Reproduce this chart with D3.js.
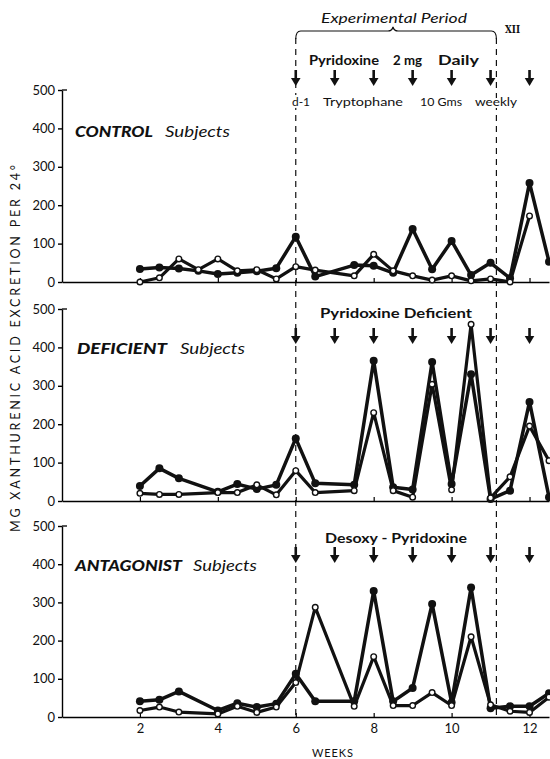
<!DOCTYPE html>
<html>
<head>
<meta charset="utf-8">
<script src="https://cdn.jsdelivr.net/npm/d3@7"></script>
<style>
  body { margin: 0; background: #fff; }
  text { font-family: Lato, "DejaVu Sans", sans-serif; fill: #111; }
</style>
</head>
<body>
<script>
// xanthurenic acid excretion, mg per 24 hours, by week
// filled = solid dots, open = open circles (null = no reading)

var controlWeeks  = [2, 2.5, 3, 3.5, 4, 4.5, 5, 5.5, 6, 6.5, 7.5, 8, 8.5, 9, 9.5, 10, 10.5, 11, 11.5, 12, 12.5];
var controlFilled = [34, 38, 35, 29, 21, 24, 28, 36, 118, 14, 44, 42, 24, 138, 33, 107, 18, 50, 10, 258, 53];
var controlOpen   = [0, 11, 60, 32, 60, 29, 32, 8, 40, 31, 16, 72, 29, 16, 5, 16, 3, 8, 0, 172, null];

var deficientWeeks  = [2, 2.5, 3, 4, 4.5, 5, 5.5, 6, 6.5, 7.5, 8, 8.5, 9, 9.5, 10, 10.5, 11, 11.5, 12, 12.5];
var deficientFilled = [39, 85, 59, 24, 44, 31, 42, 163, 46, 42, 365, 36, 30, 362, 44, 330, 5, 27, 258, 10];
var deficientOpen   = [20, 17, 17, 22, 22, 42, 16, 79, 22, 27, 230, 27, 10, 304, 29, 460, 8, 63, 195, 105];

var antagonistWeeks  = [2, 2.5, 3, 4, 4.5, 5, 5.5, 6, 6.5, 7.5, 8, 8.5, 9, 9.5, 10, 10.5, 11, 11.5, 12, 12.5];
var antagonistFilled = [41, 45, 67, 17, 36, 26, 35, 113, 41, 41, 330, 41, 76, 296, 38, 339, 23, 28, 28, 62];
var antagonistOpen   = [17, 26, 13, 8, 28, 12, 26, 90, 287, 28, 158, 30, 30, 64, 30, 210, 32, 15, 12, 52];

var yTicks = [0, 100, 200, 300, 400, 500];
var xTicks = [2, 4, 6, 8, 10, 12];
var arrowWeeks = [6, 7, 8, 9, 10, 11, 12];
var periodStart = 6, periodEnd = 11.15;

var width = 550, height = 759;

var svg = d3.select("body").append("svg")
  .attr("width", width)
  .attr("height", height);

var x = d3.scaleLinear().domain([0, 12.5]).range([62, 549]);

// panel layout
var panels = [
  {weeks: controlWeeks, filled: controlFilled, open: controlOpen,
   top: 90, bottom: 282, name: "CONTROL", nameX: 75, nameY: 137, nameLen: 78, subX: 165, subLen: 65,
   arrowTop: 70, showX: false},
  {weeks: deficientWeeks, filled: deficientFilled, open: deficientOpen,
   top: 309, bottom: 501, name: "DEFICIENT", nameX: 77, nameY: 354, nameLen: 90, subX: 180, subLen: 65,
   arrowTop: 328, showX: false,
   note: "Pyridoxine  Deficient", noteX: 320, noteY: 318, noteLen: 152},
  {weeks: antagonistWeeks, filled: antagonistFilled, open: antagonistOpen,
   top: 526, bottom: 717, name: "ANTAGONIST", nameX: 75, nameY: 571, nameLen: 107, subX: 193, subLen: 64,
   arrowTop: 547, showX: true,
   note: "Desoxy - Pyridoxine", noteX: 325, noteY: 543, noteLen: 142}
];

function drawArrow(g, cx, top) {
  g.append("line")
    .attr("x1", cx).attr("x2", cx)
    .attr("y1", top).attr("y2", top + 9)
    .attr("stroke", "#111").attr("stroke-width", 2.6);
  g.append("path")
    .attr("d", "M" + (cx - 4.8) + "," + (top + 8) + "L" + (cx + 4.8) + "," + (top + 8) + "L" + cx + "," + (top + 16) + "Z")
    .attr("fill", "#111");
}

// dashed lines of the experimental period
[periodStart, periodEnd].forEach(function(w) {
  svg.append("line")
    .attr("x1", x(w)).attr("x2", x(w))
    .attr("y1", 38).attr("y2", 718)
    .attr("stroke", "#111")
    .attr("stroke-width", 1.2)
    .attr("stroke-dasharray", "6,5");
});

panels.forEach(function(p) {
  var y = d3.scaleLinear().domain([0, 500]).range([p.bottom, p.top]);
  var g = svg.append("g");

  // y axis
  var ya = g.append("g")
    .attr("transform", "translate(" + x(0) + ",0)")
    .call(d3.axisLeft(y).tickValues(yTicks).tickSize(4).tickSizeOuter(0).tickPadding(3));
  ya.select(".domain").attr("stroke-width", 1.4);
  ya.selectAll(".tick line").attr("stroke-width", 1.4);
  ya.selectAll("text").style("font-size", "13px").style("font-family", "Lato, sans-serif").attr("fill", "#111");
  g.append("line")
    .attr("x1", x(0)).attr("x2", x(0) + 5)
    .attr("y1", y(500)).attr("y2", y(500))
    .attr("stroke", "#111").attr("stroke-width", 1.4);

  // x axis
  var xa = g.append("g")
    .attr("transform", "translate(0," + y(0) + ")")
    .call(d3.axisBottom(x).tickValues(xTicks).tickSize(-4).tickSizeOuter(0).tickPadding(7));
  xa.select(".domain").attr("stroke-width", 1.4);
  xa.selectAll(".tick line").attr("stroke-width", 1.2);
  xa.selectAll("text").style("font-size", "13px").style("font-family", "Lato, sans-serif").attr("fill", "#111");
  if (!p.showX) xa.selectAll("text").remove();

  // panel label
  g.append("text")
    .attr("x", p.nameX).attr("y", p.nameY)
    .attr("textLength", p.nameLen).attr("lengthAdjust", "spacingAndGlyphs")
    .style("font-size", "15px").style("font-style", "italic").style("font-weight", 900)
    .text(p.name);
  g.append("text")
    .attr("x", p.subX).attr("y", p.nameY)
    .attr("textLength", p.subLen).attr("lengthAdjust", "spacingAndGlyphs")
    .style("font-size", "15px").style("font-style", "italic")
    .text("Subjects");

  if (p.note) {
    g.append("text")
      .attr("x", p.noteX).attr("y", p.noteY)
      .attr("textLength", p.noteLen).attr("lengthAdjust", "spacingAndGlyphs")
      .style("font-size", "14px").style("font-weight", 700)
      .text(p.note);
  }

  arrowWeeks.forEach(function(w) { drawArrow(g, x(w), p.arrowTop); });

  var line = d3.line()
    .defined(function(d) { return d[1] != null; })
    .x(function(d) { return x(d[0]); })
    .y(function(d) { return y(d[1]); });

  var filledPts = p.weeks.map(function(w, i) { return [w, p.filled[i]]; });
  var openPts = p.weeks.map(function(w, i) { return [w, p.open[i]]; })
    .filter(function(d) { return d[1] != null; });

  g.append("path").datum(openPts)
    .attr("d", line).attr("fill", "none")
    .attr("stroke", "#111").attr("stroke-width", 3.2).attr("stroke-linejoin", "round");
  g.append("path").datum(filledPts)
    .attr("d", line).attr("fill", "none")
    .attr("stroke", "#111").attr("stroke-width", 3.5).attr("stroke-linejoin", "round");

  g.selectAll(".dot").data(filledPts).enter().append("circle")
    .attr("cx", function(d) { return x(d[0]); })
    .attr("cy", function(d) { return y(d[1]); })
    .attr("r", 4).attr("fill", "#111");
  g.selectAll(".ring").data(openPts).enter().append("circle")
    .attr("cx", function(d) { return x(d[0]); })
    .attr("cy", function(d) { return y(d[1]); })
    .attr("r", 2.8).attr("fill", "#fff")
    .attr("stroke", "#111").attr("stroke-width", 1.4);
});

// top annotations
var x0 = x(periodStart), x1 = x(periodEnd), xm = 393;
svg.append("path")
  .attr("d", "M" + x0 + ",39 Q" + x0 + ",31 " + (x0 + 5) + ",31 L" + (xm - 5) + ",31 Q" + (xm - 1) + ",31 " + xm + ",27 Q" + (xm + 1) + ",31 " + (xm + 5) + ",31 L" + (x1 - 5) + ",31 Q" + x1 + ",31 " + x1 + ",39")
  .attr("fill", "none").attr("stroke", "#111").attr("stroke-width", 1.2);

svg.append("text")
  .attr("x", 321).attr("y", 23)
  .attr("textLength", 146).attr("lengthAdjust", "spacingAndGlyphs")
  .style("font-size", "13px").style("font-style", "italic")
  .text("Experimental Period");

svg.append("text")
  .attr("x", 505).attr("y", 33)
  .attr("textLength", 15).attr("lengthAdjust", "spacingAndGlyphs")
  .style("font-size", "11px").style("font-weight", 900)
  .style("font-family", "'DejaVu Serif', serif")
  .text("XII");

var dailyWords = [["Pyridoxine", 309, 70], ["2 mg", 393, 29], ["Daily", 438, 41]];
dailyWords.forEach(function(d) {
  svg.append("text")
    .attr("x", d[1]).attr("y", 65)
    .attr("textLength", d[2]).attr("lengthAdjust", "spacingAndGlyphs")
    .style("font-size", "14px").style("font-weight", 700)
    .text(d[0]);
});

var doseWords = [["d-1", 292, 18], ["Tryptophane", 323, 80], ["10 Gms", 420, 42], ["weekly", 475, 42]];
doseWords.forEach(function(d) {
  svg.append("text")
    .attr("x", d[1]).attr("y", 106)
    .attr("textLength", d[2]).attr("lengthAdjust", "spacingAndGlyphs")
    .style("font-size", "12px")
    .style("stroke", "#fff").style("stroke-width", 4).style("paint-order", "stroke")
    .text(d[0]);
});

// axis titles
svg.append("text")
  .attr("transform", "translate(20,532) rotate(-90)")
  .attr("textLength", 367).attr("lengthAdjust", "spacing")
  .style("font-size", "12.5px")
  .text("MG  XANTHURENIC  ACID  EXCRETION  PER  24\u00b0");

svg.append("text")
  .attr("x", 312).attr("y", 757)
  .attr("textLength", 41).attr("lengthAdjust", "spacing")
  .style("font-size", "11px")
  .text("WEEKS");
</script>
</body>
</html>
